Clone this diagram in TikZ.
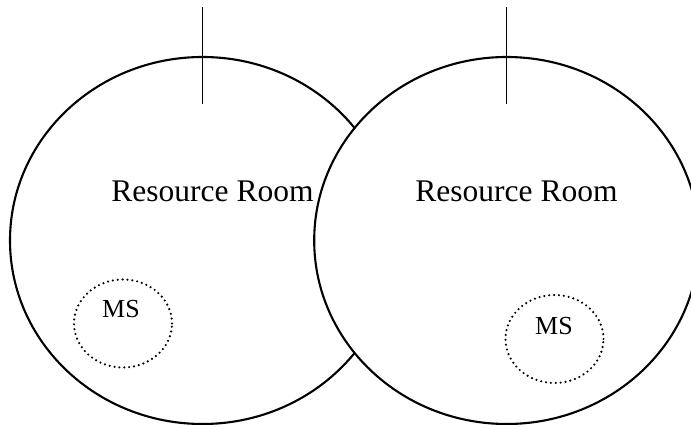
\documentclass[tikz,border=0pt]{standalone}
\usepackage{fontspec}
\setmainfont{Liberation Serif}
\usetikzlibrary{shapes.geometric}

\begin{document}
\begin{tikzpicture}[x=1pt,y=-1pt,draw=black]
    \tikzstyle{room}=[ellipse,draw,fill=white,line width=2.1pt,minimum width=385pt,minimum height=367pt,inner sep=0pt]
    \tikzstyle{station}=[ellipse,draw,line width=2.4pt,dash pattern=on 0pt off 4.9pt,line cap=round,minimum width=98pt,minimum height=88pt,inner sep=0pt]
    \tikzstyle{room label}=[anchor=base,inner sep=0pt,font=\fontsize{31.5}{36}\selectfont]
    \tikzstyle{ms label}=[anchor=base,inner sep=0pt,font=\fontsize{26}{30}\selectfont]

    \useasboundingbox (0,0) rectangle (691,425);

    % Draw the two rooms, the second one over the first
    \foreach \name / \x in {1/202.5,2/506.7}
        \node[room] (R-\name) at (\x,240.5) {};

    % Draw the lines through the top of each room
    \foreach \name / \x in {1/202.5,2/506.7}
    {
        \coordinate (A-\name) at (\x,7);
        \coordinate (B-\name) at (\x,104);
        \draw[line width=1.5pt] (A-\name) -- (B-\name);
    }

    % Label the rooms
    \foreach \name / \x in {1/212.5,2/516.5}
        \node[room label] (RL-\name) at (\x,201) {Resource Room};

    % Draw the stations inside the rooms
    \foreach \name / \x / \y in {1/123/323.5,2/554.5/339}
        \node[station] (S-\name) at (\x,\y) {};

    % Label the stations
    \foreach \name / \x / \y in {1/121/317.3,2/554/334}
        \node[ms label] (MS-\name) at (\x,\y) {MS};
\end{tikzpicture}
\end{document}
